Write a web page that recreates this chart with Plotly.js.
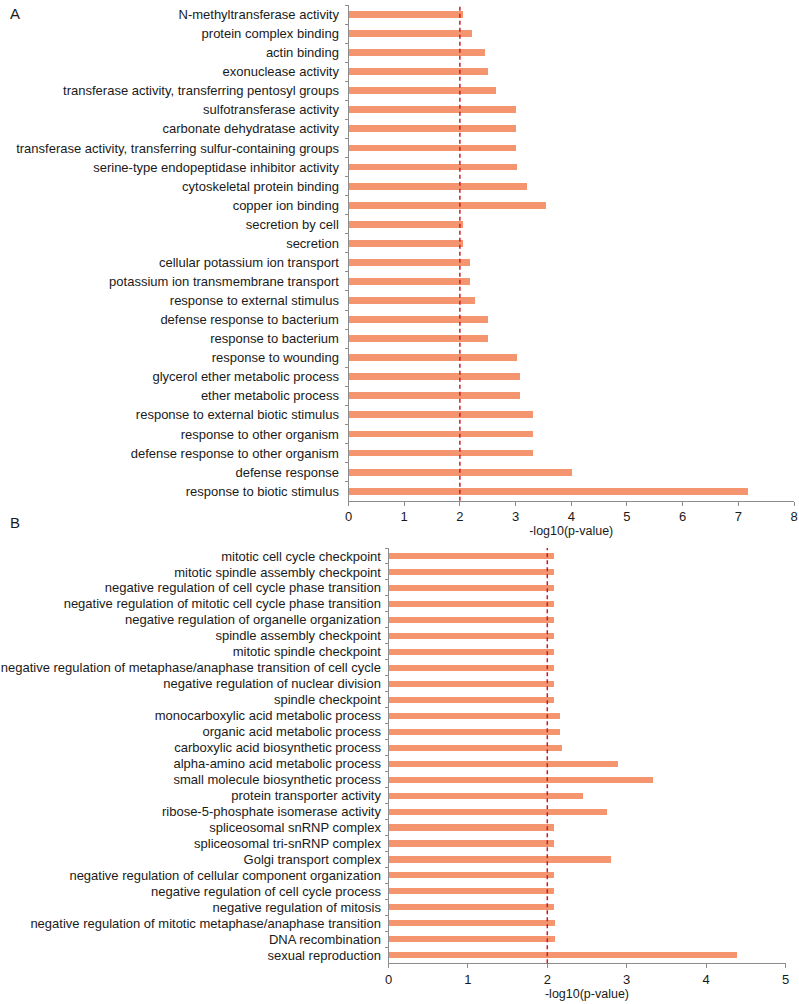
<!DOCTYPE html>
<html><head><meta charset="utf-8">
<script src="https://cdn.plot.ly/plotly-3.0.1.min.js"></script>
<style>html,body{margin:0;padding:0;background:#fff}#chart{width:799px;height:1004px}</style>
</head><body><div id="chart"></div>
<script>
const catsA = [
 "N-methyltransferase activity","protein complex binding","actin binding","exonuclease activity",
 "transferase activity, transferring pentosyl groups","sulfotransferase activity","carbonate dehydratase activity",
 "transferase activity, transferring sulfur-containing groups","serine-type endopeptidase inhibitor activity",
 "cytoskeletal protein binding","copper ion binding","secretion by cell","secretion",
 "cellular potassium ion transport","potassium ion transmembrane transport","response to external stimulus",
 "defense response to bacterium","response to bacterium","response to wounding","glycerol ether metabolic process",
 "ether metabolic process","response to external biotic stimulus","response to other organism",
 "defense response to other organism","defense response","response to biotic stimulus"];
const valsA = [2.06,2.22,2.45,2.50,2.64,3.00,3.00,3.00,3.03,3.20,3.54,2.06,2.06,
 2.18,2.18,2.28,2.50,2.50,3.03,3.08,3.08,3.32,3.32,3.32,4.01,7.18];
const catsB = [
 "mitotic cell cycle checkpoint","mitotic spindle assembly checkpoint",
 "negative regulation of cell cycle phase transition","negative regulation of mitotic cell cycle phase transition",
 "negative regulation of organelle organization","spindle assembly checkpoint","mitotic spindle checkpoint",
 "negative regulation of metaphase/anaphase transition of cell cycle","negative regulation of nuclear division",
 "spindle checkpoint","monocarboxylic acid metabolic process","organic acid metabolic process",
 "carboxylic acid biosynthetic process","alpha-amino acid metabolic process","small molecule biosynthetic process",
 "protein transporter activity","ribose-5-phosphate isomerase activity","spliceosomal snRNP complex",
 "spliceosomal tri-snRNP complex","Golgi transport complex","negative regulation of cellular component organization",
 "negative regulation of cell cycle process","negative regulation of mitosis",
 "negative regulation of mitotic metaphase/anaphase transition","DNA recombination","sexual reproduction"];
const valsB = [2.09,2.09,2.09,2.09,2.09,2.09,2.09,2.09,2.09,2.09,2.16,2.16,2.19,2.89,3.33,
 2.45,2.75,2.09,2.09,2.80,2.09,2.09,2.09,2.10,2.10,4.39];
const threshold = 2;
const xTitle = "-log10(p-value)";

const barColor = "#f4956f";
const axisColor = "#8c8c8c";
const fam = "Liberation Sans, Arial, sans-serif";
const font = {family:fam, size:13, color:"#1a1a1a"};

const traces = [
 {type:"bar", orientation:"h", x:valsA, y:catsA, xaxis:"x", yaxis:"y", width:0.36,
  marker:{color:barColor}, hoverinfo:"none"},
 {type:"bar", orientation:"h", x:valsB, y:catsB, xaxis:"x2", yaxis:"y2", width:0.38,
  marker:{color:barColor}, hoverinfo:"none"}
];
const xCommon = {showgrid:false, zeroline:false, showline:true, linecolor:axisColor, linewidth:1,
  ticks:"outside", ticklen:4, tickcolor:axisColor, dtick:1, automargin:false,
  tickfont:{family:fam,size:13,color:"#1a1a1a"},
  title:{text:xTitle, font:{family:fam,size:12.5,color:"#1a1a1a"}, standoff:2}};
const yCommon = {showgrid:false, zeroline:false, showline:true, linecolor:axisColor, linewidth:1,
  ticks:"outside", ticklen:3, tickcolor:axisColor, tickson:"boundaries", autorange:"reversed",
  tickmode:"linear", tick0:0, dtick:1,
  automargin:false, tickfont:font, type:"category"};
const layout = {
 width:799, height:1004, margin:{l:0,r:0,t:0,b:0}, paper_bgcolor:"#fff", plot_bgcolor:"#fff",
 showlegend:false, font:font, bargap:0,
 xaxis:Object.assign({}, xCommon, {domain:[348.5/799, 794/799], range:[0,8], anchor:"y"}),
 yaxis:Object.assign({}, yCommon, {domain:[1-500.7/1004, 1-5/1004], anchor:"x", ticklabelstandoff:6}),
 xaxis2:Object.assign({}, xCommon, {domain:[388.5/799, 785.5/799], range:[0,5], anchor:"y2"}),
 yaxis2:Object.assign({}, yCommon, {domain:[1-963.3/1004, 1-548/1004], anchor:"x2", ticklabelstandoff:4}),
 shapes:[
  {type:"line", xref:"x", yref:"y domain", x0:threshold, x1:threshold, y0:0, y1:1,
   line:{color:"#c81e1e", width:1.5, dash:"4px,3px"}},
  {type:"line", xref:"x2", yref:"y2 domain", x0:threshold, x1:threshold, y0:0, y1:1,
   line:{color:"#c81e1e", width:1.5, dash:"4px,3px"}}
 ],
 annotations:[
  {text:"A", xref:"paper", yref:"paper", x:8/799, y:1-3/1004, xanchor:"left", yanchor:"top",
   showarrow:false, font:{family:fam,size:15,color:"#1a1a1a"}},
  {text:"B", xref:"paper", yref:"paper", x:8/799, y:1-512/1004, xanchor:"left", yanchor:"top",
   showarrow:false, font:{family:fam,size:15,color:"#1a1a1a"}}
 ]
};
Plotly.newPlot("chart", traces, layout, {staticPlot:true, displayModeBar:false});
</script></body></html>
